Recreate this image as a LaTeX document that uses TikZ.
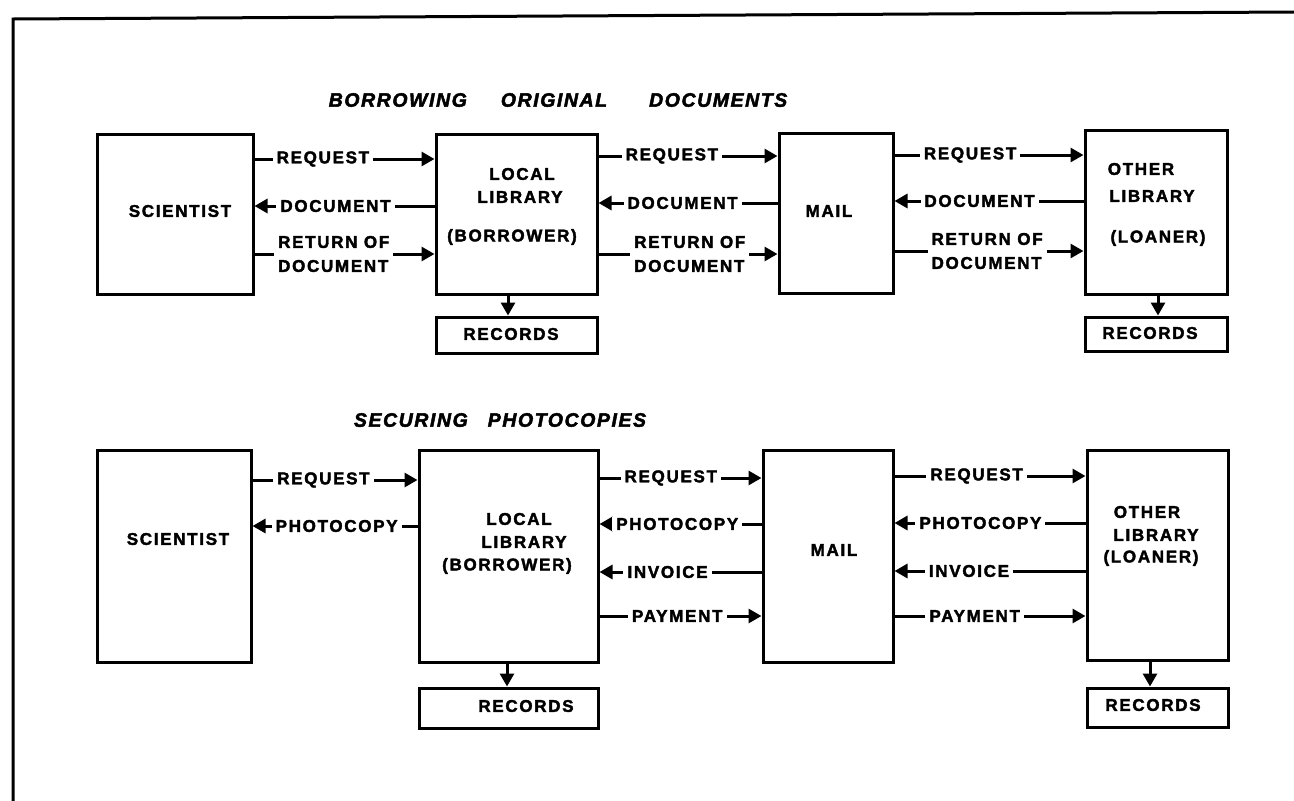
\documentclass[tikz,border=0pt]{standalone}
\usepackage{fontspec}
\setmainfont{Liberation Sans}
\newfontfamily\lblfont{Liberation Sans}[LetterSpace=10,FakeBold=2.2]
\newfontfamily\ttlfont{Liberation Sans}[LetterSpace=8,FakeBold=2.4]
\usetikzlibrary{arrows.meta}
\begin{document}
\begin{tikzpicture}[x=1pt,y=-1pt,
  box/.style={draw,line width=3pt,inner sep=0pt},
  txt/.style={font=\lblfont\bfseries\fontsize{17}{24}\selectfont,inner sep=0pt},
  lab/.style={txt,fill=white,inner xsep=4pt,inner ysep=1pt,align=left},
  ttl/.style={font=\ttlfont\bfseries\itshape\fontsize{19.5}{21}\selectfont,inner sep=0pt},
  conn/.style={line width=3pt},
  tip/.style={-{Triangle[length=13pt,width=14pt]}},
  pit/.style={{Triangle[length=13pt,width=14pt]}-}
]
\useasboundingbox (0,0) rectangle (1294,801);
\draw[line width=3pt] (13,801) -- (13,19) -- (1294,12);

% titles
\node[ttl] (t1) at (558,100) {BORROWING\hspace{34pt}ORIGINAL\hspace{42pt}DOCUMENTS};
\node[ttl] (t2) at (500,420) {SECURING\hspace{20pt}PHOTOCOPIES};

% ---------- top row ----------
\node[box,minimum width=156pt,minimum height=160pt] (sci1) at (175,214) {};
\node[box,minimum width=161pt,minimum height=160pt] (ll1) at (516.5,214) {};
\node[box,minimum width=114pt,minimum height=160pt] (mail1) at (836,213) {};
\node[box,minimum width=142pt,minimum height=164pt] (oth1) at (1156,212) {};
\node[box,minimum width=161pt,minimum height=36pt] (rec1a) at (516.5,335) {};
\node[box,minimum width=142pt,minimum height=34pt] (rec1b) at (1156,334) {};

\node[txt] (sci1t) at (180,211) {SCIENTIST};
\node[txt] (ll1a) at (522,174) {LOCAL};
\node[txt] (ll1b) at (520,197) {LIBRARY};
\node[txt] (ll1c) at (512,237) {(BORROWER)};
\node[txt] (mail1t) at (829,211) {MAIL};
\node[txt] (oth1a) at (1141,169) {OTHER};
\node[txt] (oth1b) at (1152,196) {LIBRARY};
\node[txt] (oth1c) at (1158,238) {(LOANER)};
\node[txt] (rec1at) at (511,334) {RECORDS};
\node[txt] (rec1bt) at (1150,333) {RECORDS};

\draw[conn,tip] (sci1.east |- 0,159) -- node[lab,pos=0.38] {REQUEST} (ll1.west |- 0,159);
\draw[conn,pit] (sci1.east |- 0,206) -- node[lab,pos=0.45] {DOCUMENT} (ll1.west |- 0,206);
\draw[conn,tip] (sci1.east |- 0,254) -- node[lab,pos=0.44] {RETURN OF\\DOCUMENT} (ll1.west |- 0,254);

\draw[conn,tip] (ll1.east |- 0,156) -- node[lab,pos=0.41] {REQUEST} (mail1.west |- 0,156);
\draw[conn,pit] (ll1.east |- 0,203) -- node[lab,pos=0.47] {DOCUMENT} (mail1.west |- 0,203);
\draw[conn,tip] (ll1.east |- 0,254) -- node[lab,pos=0.51] {RETURN OF\\DOCUMENT} (mail1.west |- 0,254);

\draw[conn,tip] (mail1.east |- 0,155) -- node[lab,pos=0.40] {REQUEST} (oth1.west |- 0,155);
\draw[conn,pit] (mail1.east |- 0,201) -- node[lab,pos=0.45] {DOCUMENT} (oth1.west |- 0,201);
\draw[conn,tip] (mail1.east |- 0,251) -- node[lab,pos=0.49] {RETURN OF\\DOCUMENT} (oth1.west |- 0,251);

\draw[conn,tip] (ll1.south -| 508,0) -- (rec1a.north -| 508,0);
\draw[conn,tip] (oth1.south -| 1158,0) -- (rec1b.north -| 1158,0);

% ---------- bottom row ----------
\node[box,minimum width=154pt,minimum height=212pt] (sci2) at (174,556) {};
\node[box,minimum width=179pt,minimum height=212pt] (ll2) at (508.5,556) {};
\node[box,minimum width=130pt,minimum height=212pt] (mail2) at (828,556) {};
\node[box,minimum width=141pt,minimum height=210pt] (oth2) at (1157.5,555) {};
\node[box,minimum width=179pt,minimum height=40pt] (rec2a) at (508.5,708) {};
\node[box,minimum width=141pt,minimum height=39pt] (rec2b) at (1157.5,707.5) {};

\node[txt] (sci2t) at (178,539) {SCIENTIST};
\node[txt] (ll2a) at (519,519) {LOCAL};
\node[txt] (ll2b) at (524,542) {LIBRARY};
\node[txt] (ll2c) at (507,566) {(BORROWER)};
\node[txt] (mail2t) at (834,550) {MAIL};
\node[txt] (oth2a) at (1147,512) {OTHER};
\node[txt] (oth2b) at (1156,535) {LIBRARY};
\node[txt] (oth2c) at (1151,558) {(LOANER)};
\node[txt] (rec2at) at (526,706) {RECORDS};
\node[txt] (rec2bt) at (1153,705) {RECORDS};

\draw[conn,tip] (sci2.east |- 0,480) -- node[lab,pos=0.43] {REQUEST} (ll2.west |- 0,480);
\draw[conn,pit] (sci2.east |- 0,526) -- node[lab,pos=0.51] {PHOTOCOPY} (ll2.west |- 0,526);

\draw[conn,tip] (ll2.east |- 0,478) -- node[lab,pos=0.44] {REQUEST} (mail2.west |- 0,478);
\draw[conn,pit] (ll2.east |- 0,524) -- node[lab,pos=0.48] {PHOTOCOPY} (mail2.west |- 0,524);
\draw[conn,pit] (ll2.east |- 0,572) -- node[lab,pos=0.42] {INVOICE} (mail2.west |- 0,572);
\draw[conn,tip] (ll2.east |- 0,616) -- node[lab,pos=0.48] {PAYMENT} (mail2.west |- 0,616);

\draw[conn,tip] (mail2.east |- 0,476) -- node[lab,pos=0.43] {REQUEST} (oth2.west |- 0,476);
\draw[conn,pit] (mail2.east |- 0,523) -- node[lab,pos=0.45] {PHOTOCOPY} (oth2.west |- 0,523);
\draw[conn,pit] (mail2.east |- 0,571) -- node[lab,pos=0.39] {INVOICE} (oth2.west |- 0,571);
\draw[conn,tip] (mail2.east |- 0,616) -- node[lab,pos=0.42] {PAYMENT} (oth2.west |- 0,616);

\draw[conn,tip] (ll2.south -| 507,0) -- (rec2a.north -| 507,0);
\draw[conn,tip] (oth2.south -| 1150,0) -- (rec2b.north -| 1150,0);
\end{tikzpicture}
\end{document}
